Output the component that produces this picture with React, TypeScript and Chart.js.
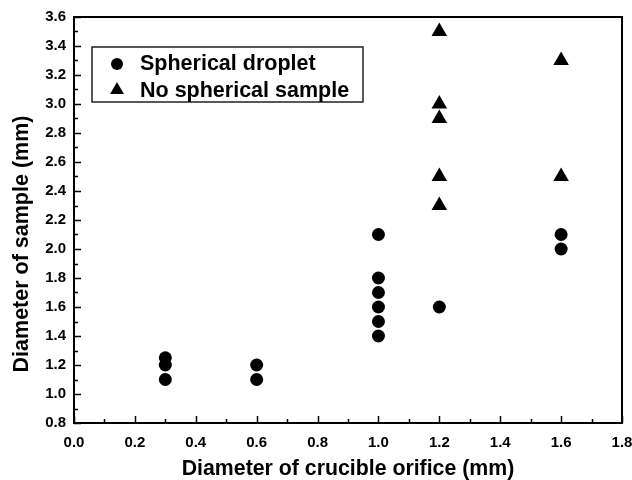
import React, { useEffect, useRef } from "react";
import { Chart, registerables } from "chart.js";

Chart.register(...registerables);

const sphericalX = [0.3, 0.3, 0.3, 0.6, 0.6, 1.0, 1.0, 1.0, 1.0, 1.0, 1.0, 1.2, 1.6, 1.6];
const sphericalY = [1.1, 1.2, 1.25, 1.1, 1.2, 1.4, 1.5, 1.6, 1.7, 1.8, 2.1, 1.6, 2.0, 2.1];
const noSphericalX = [1.2, 1.2, 1.2, 1.2, 1.2, 1.6, 1.6];
const noSphericalY = [2.3, 2.5, 2.9, 3.0, 3.5, 2.5, 3.3];
const seriesLabels = ["Spherical droplet", "No spherical sample"];
const xTitle = "Diameter of crucible orifice (mm)";
const yTitle = "Diameter of sample (mm)";
const xRange = [0, 1.8];
const yRange = [0.8, 3.6];

const FONT = "'Liberation Sans', Arial, sans-serif";

const framePlugin = {
  id: "frame",
  beforeDatasetsDraw(chart: any) {
    const { ctx, chartArea, scales } = chart;
    const { left, right, top, bottom } = chartArea;
    const xs = scales.x;
    const ys = scales.y;
    ctx.save();
    ctx.strokeStyle = "#000";
    ctx.lineWidth = 2;
    ctx.strokeRect(left, top, right - left, bottom - top);
    ctx.lineWidth = 1.5;
    ctx.beginPath();
    for (let i = 0; i <= 18; i++) {
      const v = xRange[0] + i * 0.1;
      const px = Math.round(xs.getPixelForValue(v)) + 0.5;
      const len = i % 2 === 0 ? 7 : 4;
      ctx.moveTo(px, bottom);
      ctx.lineTo(px, bottom - len);
    }
    for (let i = 0; i <= 28; i++) {
      const v = yRange[0] + i * 0.1;
      const py = Math.round(ys.getPixelForValue(v)) + 0.5;
      const len = i % 2 === 0 ? 7 : 4;
      ctx.moveTo(left, py);
      ctx.lineTo(left + len, py);
    }
    ctx.stroke();

    // y axis title (drawn manually to match its offset position)
    ctx.save();
    ctx.translate(27.5, 244);
    ctx.rotate(-Math.PI / 2);
    ctx.fillStyle = "#000";
    ctx.font = `bold 21.5px ${FONT}`;
    ctx.textAlign = "center";
    ctx.textBaseline = "alphabetic";
    ctx.fillText(yTitle, 0, 0);
    ctx.restore();

    ctx.restore();
  },
};

const legendPlugin = {
  id: "boxLegend",
  afterDatasetsDraw(chart: any) {
    const { ctx, chartArea } = chart;
    const bx = chartArea.left + 18;
    const by = chartArea.top + 30;
    const bw = 271;
    const bh = 55;
    ctx.save();
    ctx.fillStyle = "#fff";
    ctx.fillRect(bx, by, bw, bh);
    ctx.strokeStyle = "#222";
    ctx.lineWidth = 1.5;
    ctx.strokeRect(bx, by, bw, bh);
    const rows = [
      { label: seriesLabels[0], style: "circle", r: 6 },
      { label: seriesLabels[1], style: "triangle", r: 8 },
    ];
    rows.forEach((row, i) => {
      const cy = by + 16 + i * 27;
      const mx = bx + 25;
      ctx.fillStyle = "#000";
      ctx.beginPath();
      if (row.style === "circle") {
        ctx.arc(mx, cy + 1, row.r, 0, Math.PI * 2);
      } else {
        const r = row.r;
        ctx.moveTo(mx, cy - r);
        ctx.lineTo(mx + r * Math.sin((2 * Math.PI) / 3), cy - r * Math.cos((2 * Math.PI) / 3));
        ctx.lineTo(mx + r * Math.sin((4 * Math.PI) / 3), cy - r * Math.cos((4 * Math.PI) / 3));
        ctx.closePath();
      }
      ctx.fill();
      ctx.font = `bold 21.5px ${FONT}`;
      ctx.textBaseline = "middle";
      ctx.textAlign = "left";
      ctx.fillText(row.label, bx + 48, cy + 1);
    });
    ctx.restore();
  },
};

export default function App() {
  const ref = useRef<HTMLCanvasElement | null>(null);

  useEffect(() => {
    if (!ref.current) return;
    const chart = new Chart(ref.current, {
      type: "scatter",
      data: {
        datasets: [
          {
            label: seriesLabels[0],
            data: sphericalX.map((x, i) => ({ x, y: sphericalY[i] })),
            pointStyle: "circle",
            pointRadius: 6.5,
            pointBorderWidth: 0,
            backgroundColor: "#000",
            borderColor: "#000",
            clip: false as any,
          },
          {
            label: seriesLabels[1],
            data: noSphericalX.map((x, i) => ({ x, y: noSphericalY[i] })),
            pointStyle: "triangle",
            pointRadius: 9,
            pointBorderWidth: 0,
            backgroundColor: "#000",
            borderColor: "#000",
            clip: false as any,
          },
        ],
      },
      options: {
        animation: false,
        responsive: false,
        devicePixelRatio: 1,
        layout: { padding: { top: 17, right: 10, left: 0, bottom: 0 }, autoPadding: false } as any,
        plugins: {
          legend: { display: false },
          tooltip: { enabled: false },
        },
        scales: {
          x: {
            type: "linear",
            min: xRange[0],
            max: xRange[1],
            grid: { display: false, drawTicks: false },
            border: { display: false },
            ticks: {
              stepSize: 0.2,
              color: "#000",
              padding: 11,
              maxRotation: 0,
              font: { family: FONT, size: 15, weight: "bold" },
              callback: (v: any) => Number(v).toFixed(1),
            },
            title: {
              display: true,
              text: xTitle,
              color: "#000",
              font: { family: FONT, size: 21.3, weight: "bold", lineHeight: 1 },
              padding: { top: 0, bottom: 0 },
            },
            afterFit: (s: any) => {
              s.height = 57;
              s.paddingLeft = 0;
              s.paddingRight = 0;
            },
          },
          y: {
            type: "linear",
            min: yRange[0],
            max: yRange[1],
            grid: { display: false, drawTicks: false },
            border: { display: false },
            ticks: {
              stepSize: 0.2,
              color: "#000",
              padding: 8,
              font: { family: FONT, size: 15, weight: "bold" },
              callback: (v: any) => Number(v).toFixed(1),
            },
            title: { display: false },
            afterFit: (s: any) => {
              s.width = 74;
              s.paddingTop = 0;
              s.paddingBottom = 0;
            },
          },
        },
      },
      plugins: [framePlugin, legendPlugin],
    });
    return () => chart.destroy();
  }, []);

  return (
    <div style={{ position: "absolute", left: 0, top: 0, width: 632, height: 480, background: "#fff" }}>
      <canvas ref={ref} width={632} height={480} style={{ display: "block", width: 632, height: 480 }} />
    </div>
  );
}
